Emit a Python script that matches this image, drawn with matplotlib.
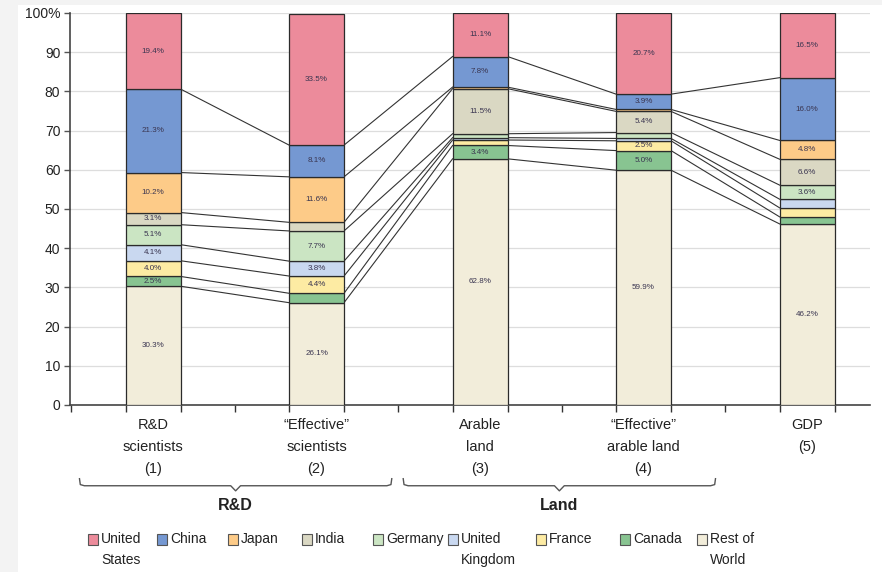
import matplotlib.pyplot as plt
from matplotlib.patches import Rectangle

plt.rcParams['font.family'] = ['Liberation Sans', 'DejaVu Sans']

categories = ['R&D\nscientists\n(1)', '\u201cEffective\u201d\nscientists\n(2)',
              'Arable\nland\n(3)', '\u201cEffective\u201d\narable land\n(4)', 'GDP\n(5)']
countries = ['United\nStates', 'China', 'Japan', 'India', 'Germany',
             'United\nKingdom', 'France', 'Canada', 'Rest of\nWorld']
colors = ['#EC8B9B', '#7598D2', '#FDCB88', '#DAD8C3', '#CBE5C3',
          '#C9D8F0', '#FDEBA3', '#88C491', '#F2EDDA']

# shares per category, bottom segment first (Rest of World ... United States)
rest = [30.3, 26.1, 62.8, 59.9, 46.2]
canada = [2.5, 2.4, 3.4, 5.0, 1.8]
france = [4.0, 4.4, 1.4, 2.5, 2.3]
uk = [4.1, 3.8, 0.6, 0.6, 2.2]
germany = [5.1, 7.7, 1.0, 1.5, 3.6]
india = [3.1, 2.2, 11.5, 5.4, 6.6]
japan = [10.2, 11.6, 0.4, 0.5, 4.8]
china = [21.3, 8.1, 7.8, 3.9, 16.0]
usa = [19.4, 33.5, 11.1, 20.7, 16.5]

stack = [rest, canada, france, uk, germany, india, japan, china, usa]
stack_colors = colors[::-1]

fig = plt.figure(figsize=(8.82, 5.72), dpi=100)
fig.patch.set_facecolor('#F3F3F3')
fig.patches.append(Rectangle((18 / 882, 0), 1, (572 - 5) / 572, transform=fig.transFigure,
                             facecolor='white', edgecolor='none', zorder=-10))
ax = fig.add_axes([70 / 882, 1 - 405 / 572, 800 / 882, 392 / 572])
ax.set_facecolor('none')

x = list(range(len(categories)))
w = 0.336
bottoms = [0.0] * len(x)
tops_per_level = []
for vals, c in zip(stack, stack_colors):
    ax.bar(x, vals, w, bottom=bottoms, color=c, edgecolor='#2b2b2b', linewidth=0.9, zorder=3)
    for i, v in enumerate(vals):
        if v >= 2.5:
            ax.text(i, bottoms[i] + v / 2, f'{v:.1f}%', ha='center', va='center',
                    fontsize=5.8, color='#3a3550', zorder=4)
    bottoms = [b + v for b, v in zip(bottoms, vals)]
    tops_per_level.append(list(bottoms))

# connecting lines between neighbouring bars
for tops in tops_per_level[:-1]:
    for i in range(len(x) - 1):
        ax.plot([i + w / 2, i + 1 - w / 2], [tops[i], tops[i + 1]],
                color='#333333', lw=0.8, zorder=2)

ax.set_xlim(-0.508, 4.385)
ax.set_ylim(0, 100)
ax.set_yticks(range(0, 101, 10))
ax.set_yticklabels([str(v) for v in range(0, 100, 10)] + ['100%'], fontsize=10, color='#222222')
ax.yaxis.grid(True, color='#DDDDDD', lw=0.9, zorder=0)
ax.tick_params(axis='y', length=4, width=1, color='#555555', pad=3)

xt = [-0.5]
for i in x:
    xt += [i - w / 2, i + w / 2]
    if i < len(x) - 1:
        xt.append(i + 0.5)
ax.set_xticks(xt)
ax.set_xticklabels([])
ax.tick_params(axis='x', length=5, width=1, color='#333333')
for s in ['top', 'right']:
    ax.spines[s].set_visible(False)
ax.spines['left'].set_color('#444444')
ax.spines['bottom'].set_color('#444444')
ax.spines['left'].set_linewidth(1.2)
ax.spines['bottom'].set_linewidth(1.2)

for i, lab in enumerate(categories):
    ax.text(i, -3.3, lab, ha='center', va='top', fontsize=10.5, color='#222222',
            linespacing=1.75, clip_on=False)

# group braces
def brace(x0, x1, y, label):
    mid = (x0 + x1) / 2
    xs = [x0, x0 + 0.005, x0 + 0.03, mid - 0.03, mid, mid + 0.03, x1 - 0.03, x1 - 0.005, x1]
    ys = [y + 1.8, y + 0.3, y, y, y - 1.3, y, y, y + 0.3, y + 1.8]
    ax.plot(xs, ys, color='#555555', lw=1.0, clip_on=False)
    ax.text(mid, y - 3.0, label, ha='center', va='top', fontsize=11.5,
            fontweight='bold', color='#222222', clip_on=False)

brace(-0.45, 1.46, -20.6, 'R&D')
brace(1.53, 3.44, -20.6, 'Land')

# legend
leg_x = [88, 157, 228, 302, 373, 448, 536, 620, 697]
for px, name, c in zip(leg_x, countries, colors):
    fig.patches.append(Rectangle((px / 882, (572 - 545) / 572), 10 / 882, 11 / 572,
                                 transform=fig.transFigure, facecolor=c,
                                 edgecolor='#555555', lw=0.8))
    fig.text((px + 13) / 882, (572 - 532) / 572, name, ha='left', va='top',
             fontsize=10, color='#222222', linespacing=1.65)

fig.savefig('out.png', dpi=100)
